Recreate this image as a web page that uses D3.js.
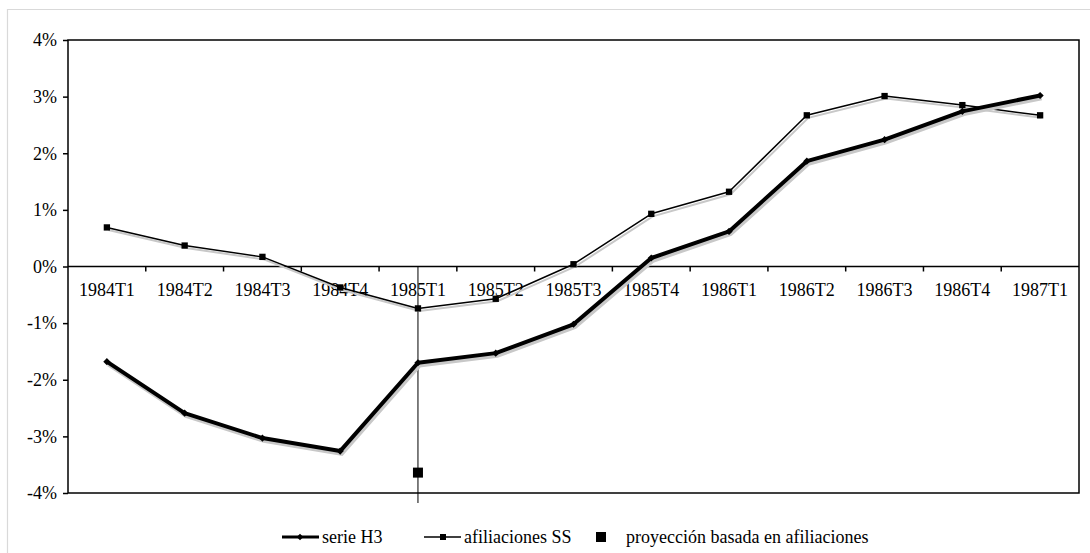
<!DOCTYPE html>
<html>
<head>
<meta charset="utf-8">
<script src="https://cdnjs.cloudflare.com/ajax/libs/d3/7.8.5/d3.min.js"></script>
<style>
  body { margin: 0; background: #fff; }
  text { font-family: "Liberation Serif", "DejaVu Serif", serif; }
</style>
</head>
<body>
<div id="chart"></div>
<script>
'use strict';

var quarters = ["1984T1","1984T2","1984T3","1984T4","1985T1","1985T2","1985T3",
                "1985T4","1986T1","1986T2","1986T3","1986T4","1987T1"];
var serieH3 = [-1.68, -2.59, -3.03, -3.26, -1.70, -1.53, -1.02, 0.15, 0.62, 1.86, 2.24, 2.74, 3.02];
var afiliaciones = [0.69, 0.37, 0.17, -0.37, -0.74, -0.57, 0.04, 0.93, 1.32, 2.67, 3.01, 2.85, 2.67];
var proyeccion = [{ q: "1985T1", v: -3.64 }];
var yTicks = [4, 3, 2, 1, 0, -1, -2, -3, -4];

var W = 1090, H = 553;
var pLeft = 68, pRight = 1079, pTop = 40, pBottom = 493;

var svg = d3.select("#chart").append("svg")
    .attr("width", W).attr("height", H);

// outer light frame
svg.append("path")
    .attr("d", "M7.5," + H + "V9.5H" + W)
    .attr("fill", "none").attr("stroke", "#d9d9d9").attr("stroke-width", 1.2);

var x = d3.scaleBand().domain(quarters).range([pLeft, pRight]);
var y = d3.scaleLinear().domain([-4, 4]).range([pBottom, pTop]);
var cx = function(q) { return x(q) + x.bandwidth() / 2; };

// plot frame
svg.append("rect")
    .attr("x", pLeft).attr("y", pTop)
    .attr("width", pRight - pLeft).attr("height", pBottom - pTop)
    .attr("fill", "none").attr("stroke", "#000").attr("stroke-width", 1.5);

// y axis
var yAxis = svg.append("g")
    .attr("transform", "translate(" + pLeft + ",0)")
    .call(d3.axisLeft(y).tickValues(yTicks).tickSize(5).tickPadding(6)
        .tickFormat(function(d) { return d + "%"; }));
yAxis.select(".domain").remove();
yAxis.selectAll("line").attr("stroke-width", 1.5);
yAxis.selectAll("text").attr("font-size", 18).attr("fill", "#000")
    .attr("font-family", "Liberation Serif");

// zero line with ticks at band edges
svg.append("line")
    .attr("x1", pLeft).attr("x2", pRight)
    .attr("y1", y(0)).attr("y2", y(0))
    .attr("stroke", "#000").attr("stroke-width", 1.5);
svg.append("g").selectAll("line")
    .data(quarters.slice(1))
    .join("line")
    .attr("x1", function(d) { return x(d); })
    .attr("x2", function(d) { return x(d); })
    .attr("y1", y(0)).attr("y2", y(0) + 5)
    .attr("stroke", "#000").attr("stroke-width", 1.5);
svg.append("g").selectAll("text")
    .data(quarters)
    .join("text")
    .attr("x", cx)
    .attr("y", y(0) + 29)
    .attr("text-anchor", "middle")
    .attr("font-size", 18)
    .text(function(d) { return d; });

// vertical marker line at 1985T1
svg.append("line")
    .attr("x1", cx("1985T1")).attr("x2", cx("1985T1"))
    .attr("y1", y(0)).attr("y2", pBottom + 10)
    .attr("stroke", "#000").attr("stroke-width", 1);

var line = d3.line()
    .x(function(d, i) { return cx(quarters[i]); })
    .y(function(d) { return y(d); });

function drawSeries(vals, width, diamond, msize) {
    // shadow
    var sh = svg.append("g").attr("transform", "translate(1.5,2.5)");
    sh.append("path").attr("d", line(vals))
        .attr("fill", "none").attr("stroke", "#c8c8c8").attr("stroke-width", width + 0.5);
    var g = svg.append("g");
    g.append("path").attr("d", line(vals))
        .attr("fill", "none").attr("stroke", "#000").attr("stroke-width", width)
        .attr("stroke-linejoin", "round");
    var sym = d3.symbol().type(d3.symbolSquare).size(msize);
    g.selectAll("path.m").data(vals).join("path")
        .attr("class", "m")
        .attr("transform", function(d, i) {
            return "translate(" + cx(quarters[i]) + "," + y(d) + ")" + (diamond ? " rotate(45)" : "");
        })
        .attr("d", sym);
}

drawSeries(afiliaciones, 1.5, false, 40);
drawSeries(serieH3, 4, true, 26);

// projection point
svg.selectAll("rect.proj").data(proyeccion).join("rect")
    .attr("class", "proj")
    .attr("x", function(d) { return cx(d.q) - 5; })
    .attr("y", function(d) { return y(d.v) - 5; })
    .attr("width", 10).attr("height", 10)
    .attr("fill", "#000");

// legend
var ly = 537;
var leg = svg.append("g");
leg.append("line").attr("x1", 282).attr("x2", 319).attr("y1", ly).attr("y2", ly)
    .attr("stroke", "#000").attr("stroke-width", 3);
leg.append("path").attr("d", d3.symbol().type(d3.symbolSquare).size(22))
    .attr("transform", "translate(300," + ly + ") rotate(45)");
leg.append("text").attr("x", 322).attr("y", ly + 6).attr("font-size", 18).text("serie H3");

leg.append("line").attr("x1", 424).attr("x2", 461).attr("y1", ly).attr("y2", ly)
    .attr("stroke", "#000").attr("stroke-width", 1.5);
leg.append("rect").attr("x", 440).attr("y", ly - 3).attr("width", 6).attr("height", 6);
leg.append("text").attr("x", 464).attr("y", ly + 6).attr("font-size", 18).text("afiliaciones SS");

leg.append("rect").attr("x", 596).attr("y", ly - 5).attr("width", 10).attr("height", 10);
leg.append("text").attr("x", 626).attr("y", ly + 6).attr("font-size", 18)
    .text("proyección basada en afiliaciones");
</script>
</body>
</html>
